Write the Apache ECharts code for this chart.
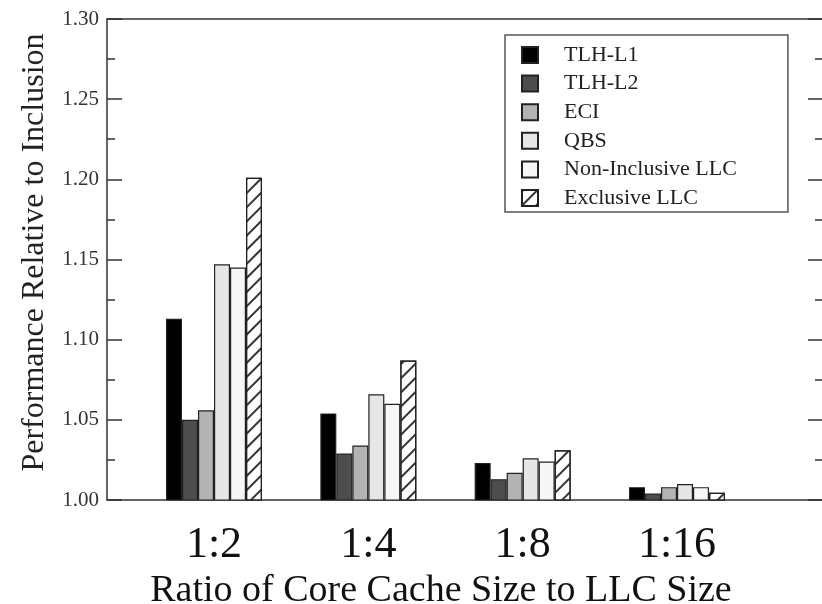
<!DOCTYPE html>
<html>
<head>
<meta charset="utf-8">
<script src="https://cdn.jsdelivr.net/npm/echarts@6/dist/echarts.min.js"></script>
<style>html,body{margin:0;padding:0;background:#fff;}#c{width:822px;height:604px;}</style>
</head>
<body>
<div id="c"></div>
<script>
// ---- data ----
var categories = ['1:2', '1:4', '1:8', '1:16'];
var seriesNames = ['TLH-L1', 'TLH-L2', 'ECI', 'QBS', 'Non-Inclusive LLC', 'Exclusive LLC'];
var tlhL1 = [1.113, 1.054, 1.023, 1.008];
var tlhL2 = [1.050, 1.029, 1.013, 1.004];
var eci = [1.056, 1.034, 1.017, 1.008];
var qbs = [1.147, 1.066, 1.026, 1.010];
var nonInclusive = [1.145, 1.060, 1.024, 1.008];
var exclusive = [1.201, 1.087, 1.031, 1.0045];
var yTicks = ['1.00', '1.05', '1.10', '1.15', '1.20', '1.25', '1.30'];

var seriesValues = [tlhL1, tlhL2, eci, qbs, nonInclusive, exclusive];
var fills = ['#000000', '#4d4d4d', '#b3b3b3', '#e6e6e6', '#f7f7f7', '#ffffff'];
var FONT = '"Liberation Serif", "DejaVu Serif", serif';

var chart = echarts.init(document.getElementById('c'), null, {renderer: 'canvas'});

var series = seriesValues.map(function (vals, si) {
  var item = {
    color: fills[si],
    borderColor: '#222',
    borderWidth: 1.2
  };
  if (si === 5) {
    item.decal = {
      symbol: 'rect',
      symbolSize: 1,
      color: '#333',
      dashArrayX: [1, 0],
      dashArrayY: [1.3, 8],
      rotation: -Math.PI / 4
    };
  }
  return {
    name: seriesNames[si],
    type: 'bar',
    xAxisIndex: 0,
    yAxisIndex: 0,
    barWidth: 16,
    barGap: '0%',
    itemStyle: item,
    data: vals.map(function (v, i) { return [i + 1, v]; })
  };
});

var option = {
  animation: false,
  backgroundColor: '#fff',
  grid: {left: 107, right: -1, top: 19, bottom: 104, outerBoundsMode: 'none', containLabel: false},
  legend: {
    orient: 'vertical',
    left: 505,
    top: 35,
    padding: [9, 51, 3, 16],
    icon: 'rect',
    itemWidth: 16,
    itemHeight: 16,
    itemGap: 6.6,
    borderColor: '#555',
    borderWidth: 1.5,
    backgroundColor: '#fff',
    textStyle: {fontFamily: FONT, fontSize: 22, color: '#222', lineHeight: 21, padding: [0, 0, 0, 21]},
    data: seriesNames
  },
  xAxis: [{
    type: 'value',
    position: 'bottom',
    min: 0.3067,
    max: 4.946,
    axisLine: {show: true, onZero: false, lineStyle: {color: '#333', width: 1.5}},
    axisTick: {show: false},
    splitLine: {show: false},
    axisLabel: {
      customValues: [1, 2, 3, 4],
      formatter: function (v) { return categories[Math.round(v) - 1] || ''; },
      fontFamily: FONT, fontSize: 44, color: '#111', margin: 23
    },
    name: 'Ratio of Core Cache Size to LLC Size',
    nameLocation: 'middle',
    nameGap: 68,
    nameTextStyle: {fontFamily: FONT, fontSize: 38, color: '#111', padding: [0, 48, 0, 0]}
  }, {
    type: 'value',
    position: 'top',
    min: 0.3067,
    max: 4.946,
    axisLine: {show: true, onZero: false, lineStyle: {color: '#333', width: 1.5}},
    axisTick: {show: false},
    axisLabel: {show: false},
    splitLine: {show: false}
  }],
  yAxis: [{
    type: 'value',
    position: 'left',
    min: 1.0,
    max: 1.3,
    interval: 0.05,
    axisLine: {show: true, onZero: false, lineStyle: {color: '#333', width: 1.5}},
    axisTick: {show: true, inside: true, length: 15, lineStyle: {color: '#333', width: 1.5}},
    minorTick: {show: true, splitNumber: 2, length: 8, lineStyle: {color: '#333', width: 1.5}},
    splitLine: {show: false},
    axisLabel: {
      formatter: function (v) { return yTicks[Math.round((v - 1) / 0.05)] || ''; },
      fontFamily: FONT, fontSize: 21, color: '#333', margin: 8
    },
    name: 'Performance Relative to Inclusion',
    nameLocation: 'middle',
    nameGap: 56,
    nameTextStyle: {fontFamily: FONT, fontSize: 32, color: '#222', padding: [0, 0, 0, 14]}
  }, {
    type: 'value',
    position: 'right',
    min: 1.0,
    max: 1.3,
    interval: 0.05,
    axisLine: {show: true, onZero: false, lineStyle: {color: '#333', width: 1.5}},
    axisTick: {show: true, inside: true, length: 15, lineStyle: {color: '#333', width: 1.5}},
    minorTick: {show: true, splitNumber: 2, length: 8, lineStyle: {color: '#333', width: 1.5}},
    splitLine: {show: false},
    axisLabel: {show: false}
  }],
  series: series
};
chart.setOption(option);
</script>
</body>
</html>
